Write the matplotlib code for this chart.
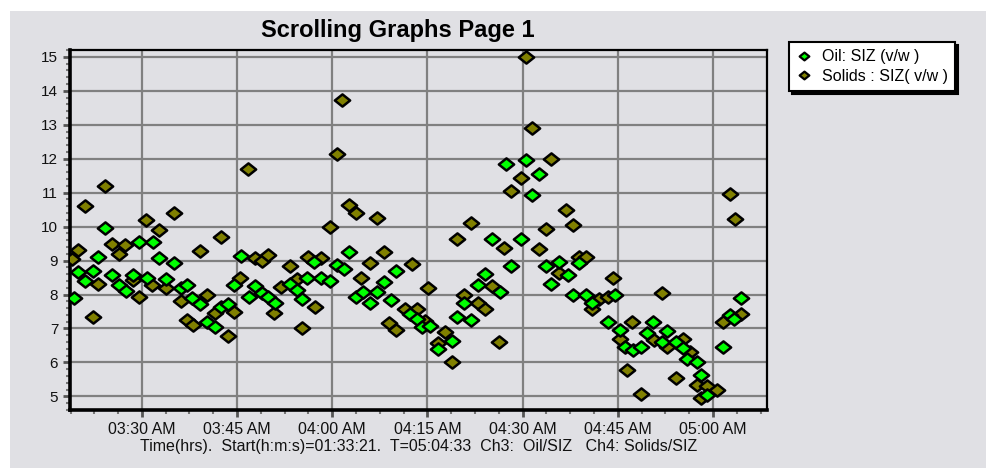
import numpy as np
import matplotlib
matplotlib.use('Agg')
import matplotlib.pyplot as plt
from matplotlib.patches import Rectangle
from matplotlib.path import Path
from matplotlib.ticker import MultipleLocator, FixedLocator, AutoMinorLocator

# ============== 数据 (x: 自 03:00 起的分钟数) ==============
oil_t = [19.3, 19.9, 21.0, 22.3, 23.1, 24.2, 25.3, 26.4, 27.5, 28.6, 29.5, 30.8,
         31.7, 32.7, 33.8, 35.0, 36.1, 37.1, 37.9, 39.1, 40.2, 41.5, 42.4, 43.5,
         44.5, 45.6, 46.8, 47.8, 48.9, 49.8, 50.9, 53.3, 54.4, 55.2, 56.0, 57.1,
         58.2, 59.7, 60.7, 61.8, 62.7, 63.8, 64.8, 66.0, 67.0, 68.1, 69.2, 70.0,
         72.3, 73.3, 74.2, 75.4, 76.6, 78.8, 79.7, 80.8, 81.9, 82.9, 84.1, 85.1,
         86.4, 87.3, 88.2, 89.7, 90.6, 91.5, 92.6, 93.7, 94.5, 95.8, 97.1, 98.0,
         98.9, 100.0, 101.0, 103.4, 104.5, 105.4, 106.2, 107.4, 108.7, 109.6, 110.6, 111.9,
         112.8, 114.2, 115.2, 115.9, 117.4, 118.1, 119.1, 121.6, 122.6, 123.3, 124.4]
oil_v = [7.9, 8.66, 8.4, 8.7, 9.1, 9.95, 8.57, 8.27, 8.1, 8.57, 9.55, 8.48,
         9.55, 9.07, 8.45, 8.92, 8.2, 8.27, 7.9, 7.72, 7.2, 7.03, 7.63, 7.72,
         8.27, 9.13, 7.93, 8.25, 8.05, 7.93, 7.75, 8.3, 8.13, 7.86, 8.5, 8.95,
         8.5, 8.4, 8.87, 8.75, 9.25, 7.93, 8.07, 7.75, 8.07, 8.37, 7.83, 8.7,
         7.42, 7.27, 7.03, 7.06, 6.4, 6.62, 7.33, 7.75, 7.25, 8.27, 8.6, 9.63,
         8.07, 11.85, 8.83, 9.63, 11.97, 10.93, 11.55, 8.83, 8.3, 8.95, 8.57, 8.0,
         8.92, 7.98, 7.75, 7.18, 7.98, 6.97, 6.45, 6.36, 6.45, 6.86, 7.18, 6.6,
         6.92, 6.6, 6.42, 6.09, 6.0, 5.62, 5.03, 6.45, 7.39, 7.27, 7.89]

solids_t = [19.0, 19.9, 21.0, 22.3, 23.1, 24.2, 25.3, 26.4, 27.3, 28.6, 29.5, 30.6,
            31.6, 32.7, 33.8, 35.0, 36.1, 37.1, 38.0, 39.1, 40.2, 41.5, 42.4, 43.5,
            44.5, 45.4, 46.7, 47.8, 48.9, 49.8, 50.8, 51.9, 53.3, 54.4, 55.3, 56.1,
            57.2, 58.3, 59.6, 60.7, 61.6, 62.6, 63.8, 64.6, 66.0, 67.1, 68.1, 69.0,
            70.0, 71.4, 72.5, 73.4, 74.6, 75.1, 76.6, 77.7, 78.8, 79.7, 80.7, 81.9,
            82.9, 84.1, 85.1, 86.2, 87.1, 88.2, 89.7, 90.6, 91.5, 92.6, 93.6, 94.5,
            95.8, 96.9, 98.0, 98.9, 100.0, 101.0, 102.1, 103.4, 104.3, 105.4, 106.5, 107.3,
            108.7, 110.7, 111.9, 112.8, 114.2, 115.2, 116.3, 117.4, 118.1, 119.1, 120.7, 121.5,
            122.6, 123.5, 124.4]
solids_v = [9.05, 9.3, 10.6, 7.33, 8.3, 11.2, 9.5, 9.2, 9.45, 8.42, 7.93, 10.2,
            8.27, 9.9, 8.2, 10.4, 7.8, 7.25, 7.1, 9.28, 7.98, 7.45, 9.7, 6.77,
            7.5, 8.5, 11.7, 9.07, 9.0, 9.15, 7.45, 8.22, 8.83, 8.45, 7.0, 9.1,
            7.63, 9.07, 10.0, 12.14, 13.73, 10.63, 10.4, 8.5, 8.92, 10.25, 9.25, 7.15,
            6.95, 7.57, 8.9, 7.57, 7.22, 8.2, 6.58, 6.9, 6.0, 9.63, 8.0, 10.1,
            7.75, 7.57, 8.25, 6.6, 9.37, 11.05, 11.43, 15.0, 12.9, 9.33, 9.93, 12.0,
            8.63, 10.5, 10.06, 9.1, 9.1, 7.57, 7.86, 7.93, 8.48, 6.7, 5.77, 7.18,
            5.06, 6.65, 8.04, 6.45, 5.53, 6.68, 6.3, 5.35, 4.94, 5.3, 5.2, 7.18,
            10.96, 10.22, 7.42]

x_ticks = [30, 45, 60, 75, 90, 105, 120]
x_ticklabels = ['03:30 AM', '03:45 AM', '04:00 AM', '04:15 AM',
                '04:30 AM', '04:45 AM', '05:00 AM']
y_ticks = [5, 6, 7, 8, 9, 10, 11, 12, 13, 14, 15]

BG = '#e0e0e4'
plt.rcParams['font.family'] = ['Liberation Sans', 'DejaVu Sans']

# 略宽的菱形
diamond = Path([(-1.25, 0), (0, 1), (1.25, 0), (0, -1), (-1.25, 0)],
               [Path.MOVETO, Path.LINETO, Path.LINETO, Path.LINETO, Path.CLOSEPOLY])

fig = plt.figure(figsize=(9.87, 4.68), dpi=100, facecolor='white')
fig.patches.append(Rectangle((10 / 987, 0), 1, 1 - 11 / 468, transform=fig.transFigure,
                             facecolor=BG, edgecolor='none', zorder=-10))

ax = fig.add_axes([70 / 987, 58 / 468, 697 / 987, 360 / 468])
ax.set_facecolor(BG)
ax.set_xlim(18.67, 128.5)
ax.set_ylim(4.6, 15.2)

ax.grid(True, which='major', color='#808080', linewidth=1.6, zorder=0)
ax.set_axisbelow(True)

ax.plot(solids_t, solids_v, linestyle='none', marker=diamond, markersize=11,
        markerfacecolor='#808000', markeredgecolor='black', markeredgewidth=1.8,
        zorder=3)
ax.plot(oil_t, oil_v, linestyle='none', marker=diamond, markersize=11,
        markerfacecolor='#00ff00', markeredgecolor='black', markeredgewidth=1.8,
        zorder=3)

# spines
for side in ['left', 'bottom']:
    ax.spines[side].set_linewidth(2.6)
for side in ['top', 'right']:
    ax.spines[side].set_linewidth(1.6)

ax.xaxis.set_major_locator(FixedLocator(x_ticks))
ax.set_xticklabels(x_ticklabels)
ax.xaxis.set_minor_locator(MultipleLocator(3.75))
ax.yaxis.set_major_locator(FixedLocator(y_ticks))
ax.yaxis.set_minor_locator(AutoMinorLocator(5))
ax.tick_params(axis='both', which='major', direction='out', length=5, width=2,
               color='#555555', labelsize=11.5, labelcolor='#111111')
ax.tick_params(axis='y', which='major', labelsize=11)
ax.tick_params(axis='both', which='minor', direction='out', length=3, width=1.5,
               color='#777777')
ax.tick_params(axis='x', which='major', pad=4)

ax.set_xlabel('Time(hrs).  Start(h:m:s)=01:33:21.  T=05:04:33  Ch3:  Oil/SIZ   Ch4: Solids/SIZ',
              fontsize=11.5, color='#111111', labelpad=1)

fig.text(398 / 987, 1 - 31 / 468, 'Scrolling Graphs Page 1', ha='center', va='center',
         fontsize=17, fontweight='bold')

# 图例
h_oil = plt.Line2D([], [], linestyle='none', marker=diamond, markersize=7,
                   markerfacecolor='#00ff00', markeredgecolor='black', markeredgewidth=1.6)
h_sol = plt.Line2D([], [], linestyle='none', marker=diamond, markersize=7,
                   markerfacecolor='#808000', markeredgecolor='black', markeredgewidth=1.6)
leg = fig.legend([h_oil, h_sol], ['Oil: SIZ (v/w )', 'Solids : SIZ( v/w )'],
                 loc='upper left', bbox_to_anchor=(789 / 987, 1 - 42 / 468),
                 fontsize=11.5, frameon=True, fancybox=False, framealpha=1,
                 edgecolor='black', handlelength=1.0, handletextpad=0.6,
                 borderpad=0.45, labelspacing=0.3, borderaxespad=0,
                 shadow={'color': 'black', 'alpha': 1})
leg.get_frame().set_linewidth(1.5)

fig.savefig('out.png', dpi=100, facecolor=fig.get_facecolor())
